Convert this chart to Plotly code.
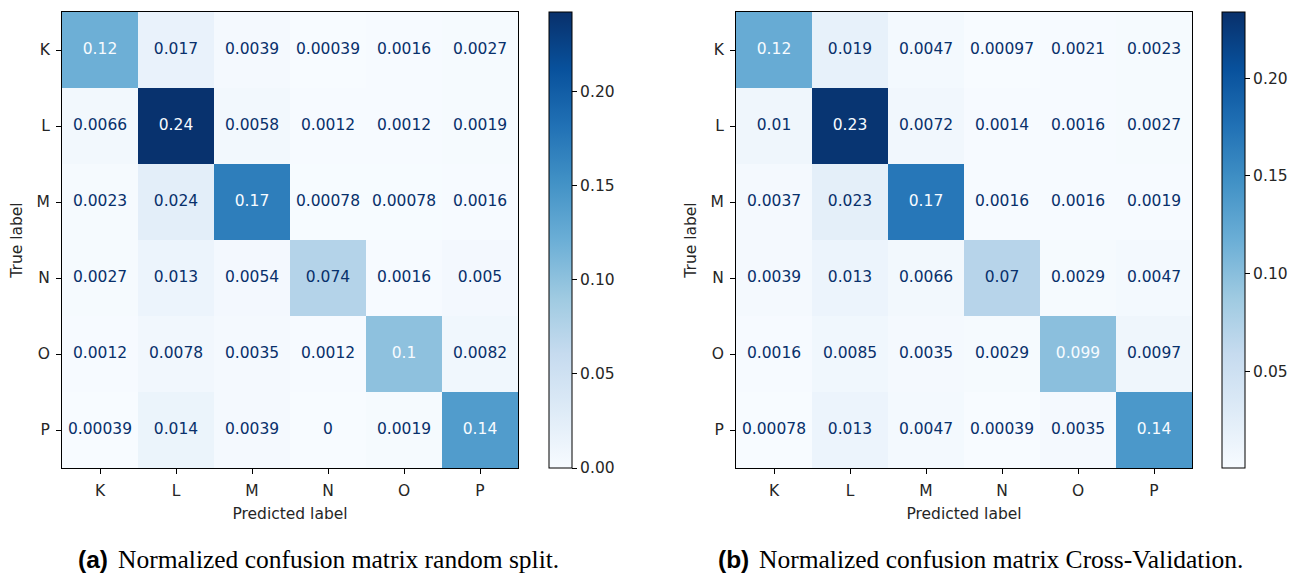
import plotly.graph_objects as go

labels = ["K", "L", "M", "N", "O", "P"]

cm_random = [
    [0.12, 0.017, 0.0039, 0.00039, 0.0016, 0.0027],
    [0.0066, 0.24, 0.0058, 0.0012, 0.0012, 0.0019],
    [0.0023, 0.024, 0.17, 0.00078, 0.00078, 0.0016],
    [0.0027, 0.013, 0.0054, 0.074, 0.0016, 0.005],
    [0.0012, 0.0078, 0.0035, 0.0012, 0.1, 0.0082],
    [0.00039, 0.014, 0.0039, 0, 0.0019, 0.14],
]
cm_cv = [
    [0.12, 0.019, 0.0047, 0.00097, 0.0021, 0.0023],
    [0.01, 0.23, 0.0072, 0.0014, 0.0016, 0.0027],
    [0.0037, 0.023, 0.17, 0.0016, 0.0016, 0.0019],
    [0.0039, 0.013, 0.0066, 0.07, 0.0029, 0.0047],
    [0.0016, 0.0085, 0.0035, 0.0029, 0.099, 0.0097],
    [0.00078, 0.013, 0.0047, 0.00039, 0.0035, 0.14],
]
zrange_random = [0.0, 0.242]
zrange_cv = [0.00039, 0.234]
cbar_ticks_random = [0.0, 0.05, 0.10, 0.15, 0.20]
cbar_ticks_cv = [0.05, 0.10, 0.15, 0.20]

blues = ["#f7fbff", "#deebf7", "#c6dbef", "#9ecae1", "#6baed6",
         "#4292c6", "#2171b5", "#08519c", "#08306b"]
colorscale = [[i / 8, c] for i, c in enumerate(blues)]

W, H = 1298, 574
FONT = "DejaVu Sans"
FS = 15.5
DARK = "#08306b"
LIGHT = "#f7fbff"
TXT = "#262626"


def fmt(v):
    if v == 0:
        return "0"
    return ("%.2g" % v)


fig = go.Figure()

panels = [
    (cm_random, zrange_random, cbar_ticks_random, 62, 549, "x", "y"),
    (cm_cv, zrange_cv, cbar_ticks_cv, 736, 1222, "x2", "y2"),
]
top, bottom = 12, 468
for cm, zr, cticks, left, cbx, xa, ya in panels:
    fig.add_trace(go.Heatmap(
        z=cm, x=labels, y=labels, colorscale=colorscale,
        zmin=zr[0], zmax=zr[1], xaxis=xa, yaxis=ya,
        hoverinfo="skip",
        colorbar=dict(
            x=cbx / W, xanchor="left", xpad=0, ypad=0,
            y=1 - bottom / H, yanchor="bottom",
            len=bottom - top, lenmode="pixels",
            thickness=23, thicknessmode="pixels",
            outlinewidth=1, outlinecolor="black",
            ticks="outside", ticklen=5, tickwidth=1, tickcolor="black",
            tickvals=cticks, tickformat=".2f",
            tickfont=dict(family=FONT, size=FS, color=TXT),
        ),
    ))
    xs, ys, txt, cols = [], [], [], []
    for i, row in enumerate(cm):
        for j, v in enumerate(row):
            xs.append(labels[j]); ys.append(labels[i]); txt.append(fmt(v))
            cols.append(LIGHT if v >= 0.09 else DARK)
    fig.add_trace(go.Scatter(
        x=xs, y=ys, text=txt, mode="text", xaxis=xa, yaxis=ya,
        textfont=dict(family=FONT, size=FS, color=cols),
        hoverinfo="skip", showlegend=False,
    ))

axis_common = dict(
    showline=True, linecolor="black", linewidth=1, mirror=True,
    ticks="outside", ticklen=5, tickwidth=1, tickcolor="black",
    showgrid=False, zeroline=False,
    tickfont=dict(family=FONT, size=FS, color=TXT),
    title_font=dict(family=FONT, size=FS, color=TXT),
)
for idx, left in [("", 62), ("2", 736)]:
    fig.update_layout(**{
        "xaxis" + idx: dict(axis_common, domain=[left / W, (left + 456) / W],
                            anchor="y" + idx, title_text="Predicted label",
                            title_standoff=9, ticklabelstandoff=3,
                            categoryorder="array", categoryarray=labels),
        "yaxis" + idx: dict(axis_common, domain=[1 - bottom / H, 1 - top / H],
                            anchor="x" + idx, title_text="True label",
                            title_standoff=10, ticklabelstandoff=3,
                            autorange="reversed",
                            categoryorder="array", categoryarray=labels),
    })

captions = [
    ("(a)", "Normalized confusion matrix random split.", 110, 116),
    ("(b)", "Normalized confusion matrix Cross-Validation.", 751, 757),
]
for tag, text, xr, xl in captions:
    fig.add_annotation(x=xr / W, y=1 - 559 / H, xref="paper", yref="paper",
                       text="<b>" + tag + "</b>", showarrow=False,
                       xanchor="right", yanchor="middle",
                       font=dict(family="Liberation Sans", size=24.5, color="black"))
    fig.add_annotation(x=xl / W, y=1 - 559 / H, xref="paper", yref="paper",
                       text=text, showarrow=False,
                       xanchor="left", yanchor="middle",
                       font=dict(family="Liberation Serif", size=25.5, color="black"))

fig.update_layout(
    width=W, height=H, margin=dict(l=0, r=0, t=0, b=0),
    paper_bgcolor="white", plot_bgcolor="white", showlegend=False,
)
fig.write_html("out.html", config={"displayModeBar": False},
               post_script="document.body.style.margin='0px';"
                           "document.body.style.overflow='hidden';")
